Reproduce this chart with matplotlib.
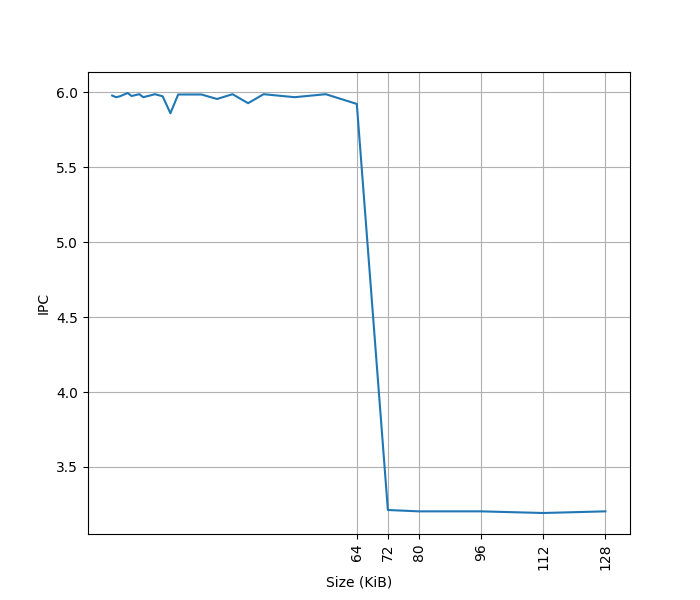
import numpy as np
import matplotlib
matplotlib.use('Agg')
import matplotlib.pyplot as plt

# cache size sweep (KiB) and measured IPC
sizes = [1, 2, 3, 5, 6, 8, 9, 11, 12, 14, 16, 18, 24, 28, 32, 36, 40, 48, 56, 64,
         72, 80, 96, 112, 128]
ipc = [5.978, 5.967, 5.973, 5.995, 5.975, 5.987, 5.967, 5.980, 5.987, 5.973,
       5.860, 5.985, 5.985, 5.955, 5.987, 5.927, 5.987, 5.967, 5.987, 5.922,
       3.213, 3.204, 3.204, 3.193, 3.204]
tick_sizes = [64, 72, 80, 96, 112, 128]

fig, ax = plt.subplots(1, 1, figsize=(7, 6), dpi=100)
ax.plot(sizes, ipc)
ax.set_xticks(tick_sizes)
ax.set_xticklabels([str(t) for t in tick_sizes], rotation=90)
ax.set_xlabel('Size (KiB)')
ax.set_ylabel('IPC')
ax.grid(True)
plt.savefig('out.png')
